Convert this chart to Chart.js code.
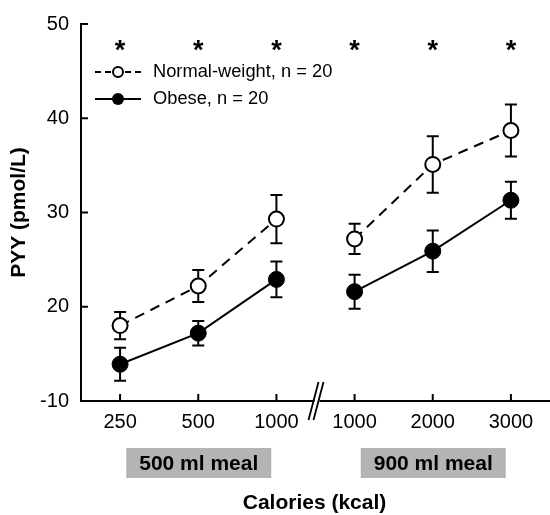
<!DOCTYPE html>
<html>
<head>
<meta charset="utf-8">
<script src="https://cdn.jsdelivr.net/npm/chart.js@4.4.1/dist/chart.umd.min.js"></script>
<style>
  html, body { margin: 0; padding: 0; background: #fff; overflow: hidden; }
  canvas { display: block; }
</style>
</head>
<body>
<canvas id="pyyChart" width="550" height="515"></canvas>
<script>
// calories tested in each meal volume (3 in the 500 ml meal, 3 in the 900 ml meal)
var calories = ['250', '500', '1000', '1000', '2000', '3000'];
var mealGroups = ['500 ml meal', '900 ml meal'];

// PYY means and SEM
var normalMean = [18.0, 22.2, 29.3, 27.2, 35.1, 38.7];
var normalSem  = [1.45, 1.7, 2.55, 1.6, 3.0, 2.75];
var obeseMean  = [13.9, 17.2, 22.9, 21.6, 25.9, 31.3];
var obeseSem   = [1.75, 1.3, 1.9, 1.8, 2.2, 1.95];

var yTicks = [10, 20, 30, 40, 50];
var significant = [true, true, true, true, true, true];

var FONT = '"Liberation Sans", Arial, Helvetica, sans-serif';

// segment between the two meal groups is not drawn (axis break)
function breakSegment(ctx) {
    return ctx.p0DataIndex === 2 ? 'rgba(0,0,0,0)' : '#000';
}

var errorBars = {
    id: 'errorBars',
    beforeDatasetsDraw: function(chart) {
        var c = chart.ctx;
        var x = chart.scales.x, y = chart.scales.y;
        var sets = [[normalMean, normalSem], [obeseMean, obeseSem]];
        c.save();
        c.strokeStyle = '#000';
        c.lineWidth = 2;
        sets.forEach(function(s) {
            for (var i = 0; i < s[0].length; i++) {
                var px = x.getPixelForValue(i);
                var top = y.getPixelForValue(s[0][i] + s[1][i]);
                var bot = y.getPixelForValue(s[0][i] - s[1][i]);
                c.beginPath();
                c.moveTo(px, top); c.lineTo(px, bot);
                c.moveTo(px - 6, top); c.lineTo(px + 6, top);
                c.moveTo(px - 6, bot); c.lineTo(px + 6, bot);
                c.stroke();
            }
        });
        c.restore();
    }
};

var decorations = {
    id: 'decorations',
    afterDraw: function(chart) {
        var c = chart.ctx;
        var area = chart.chartArea;
        var x = chart.scales.x, y = chart.scales.y;
        c.save();
        c.strokeStyle = '#000';
        c.lineWidth = 2;

        // inward tick marks
        c.beginPath();
        yTicks.forEach(function(v) {
            var py = y.getPixelForValue(v);
            c.moveTo(area.left, py); c.lineTo(area.left + 7, py);
        });
        calories.forEach(function(v, i) {
            var px = x.getPixelForValue(i);
            c.moveTo(px, area.bottom); c.lineTo(px, area.bottom - 7);
        });
        c.stroke();

        // axis break //
        var bx = (x.getPixelForValue(2) + x.getPixelForValue(3)) / 2;
        var by = area.bottom;
        c.fillStyle = '#fff';
        c.beginPath();
        c.moveTo(bx - 6, by + 19); c.lineTo(bx + 4, by - 19);
        c.lineTo(bx + 9, by - 19); c.lineTo(bx - 1, by + 19);
        c.closePath();
        c.fill();
        c.lineWidth = 1.8;
        c.beginPath();
        c.moveTo(bx - 7, by + 19); c.lineTo(bx + 3, by - 19);
        c.moveTo(bx - 2, by + 19); c.lineTo(bx + 8, by - 19);
        c.stroke();

        // significance stars
        c.fillStyle = '#000';
        c.font = 'bold 27px ' + FONT;
        c.textAlign = 'center';
        c.textBaseline = 'alphabetic';
        significant.forEach(function(s, i) {
            if (s) c.fillText('*', x.getPixelForValue(i), area.top + 35);
        });

        // legend
        var lx = area.left + 14, ly1 = area.top + 48, ly2 = area.top + 75;
        c.lineWidth = 2;
        c.setLineDash([6, 4]);
        c.beginPath(); c.moveTo(lx, ly1); c.lineTo(lx + 46, ly1); c.stroke();
        c.setLineDash([]);
        c.beginPath(); c.moveTo(lx, ly2); c.lineTo(lx + 46, ly2); c.stroke();
        c.beginPath(); c.arc(lx + 23, ly1, 5, 0, Math.PI * 2);
        c.fillStyle = '#fff'; c.fill(); c.stroke();
        c.beginPath(); c.arc(lx + 23, ly2, 6, 0, Math.PI * 2);
        c.fillStyle = '#000'; c.fill();
        c.font = '18.3px ' + FONT;
        c.textAlign = 'left';
        c.textBaseline = 'middle';
        c.fillText('Normal-weight, n = 20', lx + 58, ly1);
        c.fillText('Obese, n = 20', lx + 58, ly2);

        // meal boxes under the axis
        c.font = 'bold 21px ' + FONT;
        c.textAlign = 'center';
        mealGroups.forEach(function(label, g) {
            var cx = x.getPixelForValue(g * 3 + 1);
            c.fillStyle = '#b4b4b4';
            c.fillRect(cx - 72, area.bottom + 47, 145, 30);
            c.fillStyle = '#000';
            c.fillText(label, cx + 0.5, area.bottom + 63);
        });

        // axis titles
        c.fillText('Calories (kcal)', (area.left + area.right) / 2 - 1, area.bottom + 102);
        c.translate(19, (area.top + area.bottom) / 2);
        c.rotate(-Math.PI / 2);
        c.fillText('PYY (pmol/L)', 0, 0);
        c.restore();
    }
};

new Chart(document.getElementById('pyyChart'), {
    type: 'line',
    data: {
        labels: calories,
        datasets: [
            {
                label: 'Normal-weight, n = 20',
                data: normalMean,
                borderColor: '#000',
                borderWidth: 2,
                borderDash: [10, 7],
                pointRadius: 7.5,
                pointBorderWidth: 2,
                pointBackgroundColor: '#fff',
                pointBorderColor: '#000',
                segment: { borderColor: breakSegment },
                tension: 0
            },
            {
                label: 'Obese, n = 20',
                data: obeseMean,
                borderColor: '#000',
                borderWidth: 2,
                pointRadius: 8,
                pointBorderWidth: 1,
                pointBackgroundColor: '#000',
                pointBorderColor: '#000',
                segment: { borderColor: breakSegment },
                tension: 0
            }
        ]
    },
    options: {
        responsive: false,
        devicePixelRatio: 1,
        animation: false,
        // the x axis runs right to the edge of the figure
        layout: { autoPadding: false, padding: { top: 23, right: 0, left: 0, bottom: 0 } },
        plugins: {
            legend: { display: false },
            tooltip: { enabled: false }
        },
        scales: {
            x: {
                offset: true,
                grid: { display: false, drawTicks: false },
                border: { display: true, color: '#000', width: 2 },
                ticks: {
                    color: '#000',
                    font: { family: FONT, size: 20 },
                    padding: 9,
                    maxRotation: 0,
                    autoSkip: false
                },
                afterFit: function(scale) {
                    scale.height = 114;
                    scale.paddingLeft = 0;
                    scale.paddingRight = 0;
                }
            },
            y: {
                min: 10,
                max: 50,
                afterBuildTicks: function(scale) {
                    scale.ticks = yTicks.map(function(v) { return { value: v }; });
                },
                grid: { display: false, drawTicks: false },
                border: { display: true, color: '#000', width: 2 },
                ticks: {
                    color: '#000',
                    font: { family: FONT, size: 20 },
                    padding: 12,
                    // the lowest tick is printed as "-10" in the original figure
                    callback: function(v) { return v === 10 ? '-10' : String(v); }
                },
                afterFit: function(scale) { scale.width = 81; }
            }
        }
    },
    plugins: [errorBars, decorations]
});
</script>
</body>
</html>
